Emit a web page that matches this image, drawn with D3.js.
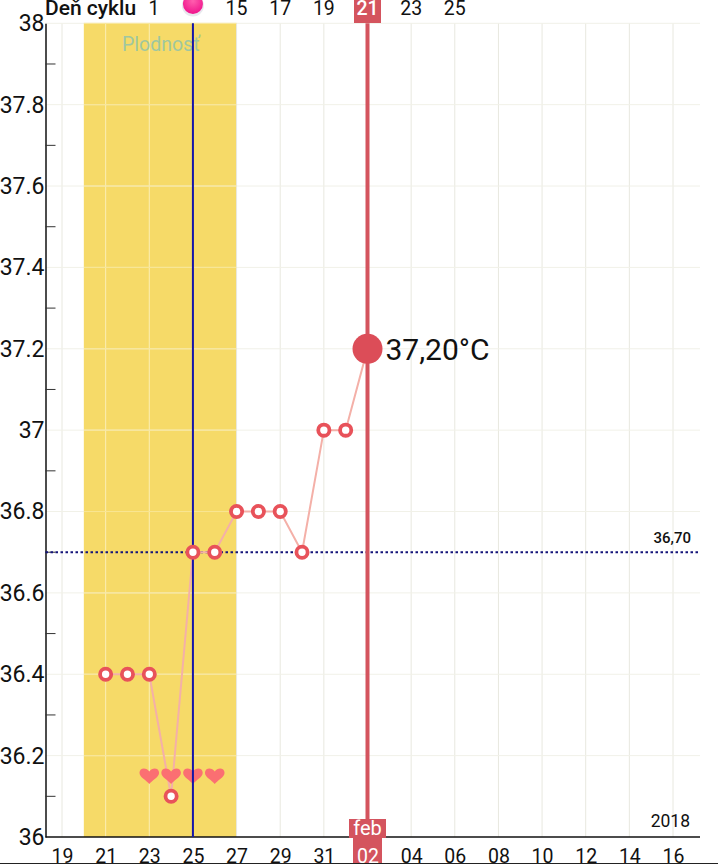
<!DOCTYPE html>
<html>
<head>
<meta charset="utf-8">
<script src="https://d3js.org/d3.v7.min.js"></script>
<style>
html, body { margin: 0; padding: 0; background: #fff; }
svg { display: block; }
text { font-family: Roboto, sans-serif; fill: #111; }
</style>
</head>
<body>
<svg id="chart" width="718" height="864"></svg>
<script>
// temperature readings, one per day
var days = ["2018-01-21","2018-01-22","2018-01-23","2018-01-24","2018-01-25","2018-01-26","2018-01-27","2018-01-28","2018-01-29","2018-01-30","2018-01-31","2018-02-01","2018-02-02"];
var temps = [36.4,36.4,36.4,36.1,36.7,36.7,36.8,36.8,36.8,36.7,37.0,37.0,37.2];

// days with a heart
var heartDays = ["2018-01-23","2018-01-24","2018-01-25","2018-01-26"];
var heartLevel = 36.15;

// bottom axis
var tickDays = ["2018-01-19","2018-01-21","2018-01-23","2018-01-25","2018-01-27","2018-01-29","2018-01-31","2018-02-02","2018-02-04","2018-02-06","2018-02-08","2018-02-10","2018-02-12","2018-02-14","2018-02-16"];
var tickLabels = ["19","21","23","25","27","29","31","02","04","06","08","10","12","14","16"];

// top axis (cycle day). the ball stands in for day 13
var cycleDays = ["2018-01-27","2018-01-29","2018-01-31","2018-02-02","2018-02-04","2018-02-06"];
var cycleLabels = ["15","17","19","21","23","25"];
var firstCycleLabel = "1";
var ovulationDay = "2018-01-25";
var selectedDay = "2018-02-02";

var fertileStart = "2018-01-20", fertileEnd = "2018-01-27";
var baseline = 36.7;
var yTicks = [36,36.2,36.4,36.6,36.8,37,37.2,37.4,37.6,37.8,38];
var yMinor = [36.1,36.3,36.5,36.7,36.9,37.1,37.3,37.5,37.7,37.9];

var parse = d3.utcParse("%Y-%m-%d");
var svg = d3.select("#chart");

var x = d3.scaleUtc().domain([parse("2018-01-19"), parse("2018-02-16")]).range([62, 673]);
var y = d3.scaleLinear().domain([36, 38]).range([837, 23.3]);
var left = 45.5, right = 700;

var defs = svg.append("defs");
var ball = defs.append("radialGradient").attr("id", "ball").attr("cx", "50%").attr("cy", "35%").attr("r", "65%");
ball.append("stop").attr("offset", "0%").attr("stop-color", "#ff5fae");
ball.append("stop").attr("offset", "100%").attr("stop-color", "#f0148c");

// fertile window
svg.append("rect")
    .attr("x", x(parse(fertileStart)))
    .attr("y", y(38))
    .attr("width", x(parse(fertileEnd)) - x(parse(fertileStart)))
    .attr("height", y(36) - y(38))
    .attr("fill", "#f6da68");

// grid
svg.append("g").selectAll("line").data(tickDays).enter().append("line")
    .attr("x1", function(d) { return x(parse(d)); })
    .attr("x2", function(d) { return x(parse(d)); })
    .attr("y1", y(38)).attr("y2", y(36))
    .attr("stroke", function(d) { return x(parse(d)) > x(parse(fertileStart)) && x(parse(d)) < x(parse(fertileEnd)) ? "#fbeeb4" : "#e8e8df"; })
    .attr("stroke-width", 1);

svg.append("g").selectAll("line").data(yTicks.slice(1)).enter().append("line")
    .attr("x1", left).attr("x2", right)
    .attr("y1", function(d) { return y(d); })
    .attr("y2", function(d) { return y(d); })
    .attr("stroke", "#f1f1e8")
    .attr("stroke-width", 1);

svg.append("g").selectAll("line").data(yTicks.slice(1)).enter().append("line")
    .attr("x1", x(parse(fertileStart))).attr("x2", x(parse(fertileEnd)))
    .attr("y1", function(d) { return y(d); })
    .attr("y2", function(d) { return y(d); })
    .attr("stroke", "#f9e58f")
    .attr("stroke-width", 1);

svg.append("text")
    .attr("x", 161).attr("y", 51)
    .attr("text-anchor", "middle")
    .attr("font-size", 19.5)
    .style("fill", "#9fc7a0")
    .text("Plodnosť");

// y axis
var yAxis = d3.axisLeft(y).tickValues(yTicks).tickSize(0).tickPadding(1).tickFormat(function(d) { return String(d); });
var gy = svg.append("g").attr("transform", "translate(" + left + ",0)").call(yAxis);
gy.select(".domain").attr("stroke", "#111").attr("stroke-width", 1.5);
gy.selectAll("text").attr("font-size", 23).style("font-family", "Roboto, sans-serif");

svg.append("g").selectAll("line").data(yMinor).enter().append("line")
    .attr("x1", left).attr("x2", left + 10)
    .attr("y1", function(d) { return y(d); })
    .attr("y2", function(d) { return y(d); })
    .attr("stroke", "#333").attr("stroke-width", 1);

// x axis line, the labels come after the date flag
svg.append("line").attr("x1", left).attr("x2", right).attr("y1", y(36)).attr("y2", y(36))
    .attr("stroke", "#111").attr("stroke-width", 1.5);

// bottom edge of the screen
svg.append("rect").attr("x", 0).attr("y", 863).attr("width", 718).attr("height", 1).attr("fill", "#222");

svg.append("text").attr("x", 690).attr("y", 827).attr("text-anchor", "end").attr("font-size", 17.5).text("2018");

// baseline
svg.append("line")
    .attr("x1", left).attr("x2", right)
    .attr("y1", y(baseline)).attr("y2", y(baseline))
    .attr("stroke", "#14147a").attr("stroke-width", 2).attr("stroke-dasharray", "2.5,2.5");
svg.append("text").attr("x", 691).attr("y", y(baseline) - 9)
    .attr("text-anchor", "end").attr("font-size", 15).attr("font-weight", 500)
    .text(String(baseline.toFixed(2)).replace(".", ","));

// temperature line
var line = d3.line()
    .x(function(d, i) { return x(parse(days[i])); })
    .y(function(d) { return y(d); });
svg.append("path")
    .attr("d", line(temps))
    .attr("fill", "none")
    .attr("stroke", "#f4b0a8")
    .attr("stroke-width", 2);

// hearts
var heartPath = "M0,8 C-2.5,4.5 -9.8,1.5 -9.8,-3.2 C-9.8,-8.4 -2.8,-9 0,-4.4 C2.8,-9 9.8,-8.4 9.8,-3.2 C9.8,1.5 2.5,4.5 0,8 Z";
svg.append("g").selectAll("path").data(heartDays).enter().append("path")
    .attr("d", heartPath)
    .attr("transform", function(d) { return "translate(" + x(parse(d)) + "," + y(heartLevel) + ")"; })
    .attr("fill", "#fb6f72");

// ovulation line
svg.append("line")
    .attr("x1", x(parse(ovulationDay))).attr("x2", x(parse(ovulationDay)))
    .attr("y1", y(38)).attr("y2", y(36))
    .attr("stroke", "#1515a8").attr("stroke-width", 2);

// selected day line
var sel = x(parse(selectedDay));
svg.append("line")
    .attr("x1", sel).attr("x2", sel)
    .attr("y1", y(38)).attr("y2", y(36))
    .attr("stroke", "#d4545e").attr("stroke-width", 4);

// points, the last one is the selected reading
svg.append("g").selectAll("circle").data(temps.slice(0, -1)).enter().append("circle")
    .attr("cx", function(d, i) { return x(parse(days[i])); })
    .attr("cy", function(d) { return y(d); })
    .attr("r", 5.6)
    .attr("fill", "#fff")
    .attr("stroke", "#e8525a")
    .attr("stroke-width", 3.8);

var lastTemp = temps[temps.length - 1];
svg.append("circle").attr("cx", sel).attr("cy", y(lastTemp)).attr("r", 15).attr("fill", "#dc4d58");
svg.append("text").attr("x", sel + 18).attr("y", y(lastTemp) + 11)
    .attr("font-size", 30)
    .text(lastTemp.toFixed(2).replace(".", ",") + "°C");

// top labels
svg.append("text").attr("x", 45).attr("y", 15).attr("font-size", 21).attr("font-weight", 500).text("Deň cyklu");
svg.append("text").attr("x", 154).attr("y", 15).attr("text-anchor", "middle").attr("font-size", 19.5).text(firstCycleLabel);

svg.append("rect").attr("x", sel - 13.5).attr("y", 0).attr("width", 27).attr("height", 23).attr("fill", "#d4545e");
svg.append("g").selectAll("text").data(cycleDays).enter().append("text")
    .attr("x", function(d) { return x(parse(d)); })
    .attr("y", 15)
    .attr("text-anchor", "middle")
    .attr("font-size", 19.5)
    .attr("font-weight", function(d) { return d === selectedDay ? 500 : 400; })
    .style("fill", function(d) { return d === selectedDay ? "#fff" : "#111"; })
    .text(function(d, i) { return cycleLabels[i]; });

var ov = x(parse(ovulationDay));
svg.append("circle").attr("cx", ov).attr("cy", 5.5).attr("r", 11).attr("fill", "#e8e8ee");
svg.append("circle").attr("cx", ov).attr("cy", 4).attr("r", 10).attr("fill", "url(#ball)");

// selected date flag at the bottom
svg.append("rect").attr("x", sel - 18.5).attr("y", 819).attr("width", 37).attr("height", 19).attr("fill", "#d4545e");
svg.append("rect").attr("x", sel - 14.5).attr("y", 838).attr("width", 29).attr("height", 25).attr("fill", "#d4545e");
svg.append("text").attr("x", sel).attr("y", 835).attr("text-anchor", "middle").attr("font-size", 20).style("fill", "#fff").text("feb");

var xAxis = d3.axisBottom(x)
    .tickValues(tickDays.map(parse))
    .tickSize(0).tickPadding(0)
    .tickFormat(function(d, i) { return tickLabels[i]; });
var gx = svg.append("g").attr("transform", "translate(0," + y(36) + ")").call(xAxis);
gx.select(".domain").remove();
gx.selectAll("text")
    .attr("y", 26).attr("dy", 0)
    .attr("font-size", 19.5)
    .style("font-family", "Roboto, sans-serif")
    .style("fill", function(d, i) { return tickDays[i] === selectedDay ? "#fff" : "#111"; });
</script>
</body>
</html>
